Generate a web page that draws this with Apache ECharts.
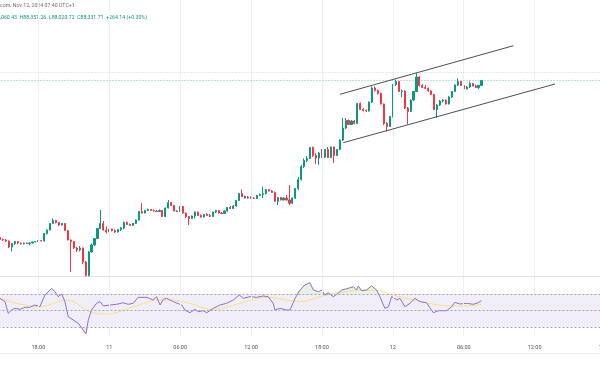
<!DOCTYPE html>
<html><head><meta charset="utf-8">
<script src="https://cdn.jsdelivr.net/npm/echarts@6/dist/echarts.min.js"></script>
<style>html,body{margin:0;padding:0;background:#fff}#c{width:600px;height:370px}</style>
</head><body><div id="c"></div>
<script>
// ---- data ----
const slotCount = 206; // 15-minute slots starting 2024-11-10 14:45 (UTC+1)
const tickTimes = ['2024-11-10 18:00','2024-11-11 00:00','2024-11-11 06:00','2024-11-11 12:00','2024-11-11 18:00','2024-11-12 00:00','2024-11-12 06:00','2024-11-12 12:00','2024-11-12 18:00'];
const tickLabels = ['18:00','11','06:00','12:00','18:00','12','06:00','12:00','18:00'];

const opens = [
79698,79588,79560,79505,79175,79368,79478,79395,79351,79395,
79368,79395,79450,79478,79533,79505,79918,80110,80468,80633,
80523,80385,80468,80083,79560,79478,79120,79010,79120,78350,
77608,78900,79285,79643,80193,80468,80110,80000,80165,80083,
80000,80138,80220,80523,80413,80358,80468,80660,81128,81045,
81183,81238,81183,81155,81128,81183,80853,81320,81623,81458,
81155,81128,81403,81045,80853,80743,80880,81100,80908,80825,
80963,80908,80853,81100,81183,81045,81018,81155,81348,81293,
81430,81733,82118,81953,81870,81925,81854,81843,82008,82063,
82118,82338,82255,82173,81678,81898,81760,81870,81760,81579,
81870,82393,82888,83603,83933,84043,84648,84208,84070,84345,
84125,84538,84098,84675,84208,84538,85060,85720,86133,85913,
86105,85968,87068,86738,86683,86655,87150,87920,87783,87618,
87040,85968,85803,86353,88113,88278,87728,87755,86820,86628,
87260,87728,88525,88058,87948,87893,87755,87563,86738,86985,
87205,87260,87040,87425,87728,88085,88278,88058,87865,87975,
88168,88030,87948,88060.43];
const closes = [
79588,79560,79505,79175,79368,79478,79395,79351,79395,79368,
79395,79450,79478,79533,79505,79918,80110,80468,80633,80523,
80385,80468,80083,79560,79478,79120,79010,79120,78350,77608,
78900,79285,79643,80193,80468,80110,80000,80165,80083,80000,
80138,80220,80523,80413,80358,80468,80660,81128,81045,81183,
81238,81183,81155,81128,81183,80853,81320,81623,81458,81155,
81128,81403,81045,80853,80743,80880,81100,80908,80825,80963,
80908,80853,81100,81183,81045,81018,81155,81348,81293,81430,
81733,82118,81953,81870,81925,81854,81843,82008,82063,82118,
82338,82255,82173,81678,81898,81760,81870,81760,81579,81870,
82393,82888,83603,83933,84043,84648,84208,84070,84345,84125,
84538,84098,84675,84208,84538,85060,85720,86133,85913,86105,
85968,87068,86738,86683,86655,87150,87920,87783,87618,87040,
85968,85803,86353,88113,88278,87728,87755,86820,86628,87260,
87728,88525,88058,87948,87893,87755,87563,86738,86985,87205,
87260,87040,87425,87728,88085,88278,88058,87865,87975,88168,
88030,87948,88067.57,88331.71];
const highs = [
79780,79643,79615,79533,79395,79505,79505,79423,79423,79423,
79423,79478,79505,79560,79560,79945,80138,80495,80743,80660,
80550,80495,80495,80110,79588,79505,79175,79230,79148,78405,
78955,79368,79670,80220,81210,80605,80303,80193,80193,80138,
80165,80275,80578,80578,80468,80495,80688,81155,81579,81210,
81293,81265,81238,81210,81238,81210,81348,81760,81650,81485,
81210,81430,81430,81073,80880,80908,81128,81128,80963,80990,
81045,80990,81128,81210,81210,81100,81183,81375,81430,81485,
81760,82145,82338,82008,81980,81953,81925,82035,82118,82492,
82365,82365,82310,82228,81925,81925,81898,82035,82585,81898,
82420,83025,83685,84043,84180,84675,84703,84345,84400,84565,
84565,84675,84703,84703,84565,85088,86270,86270,86188,86160,
86160,87095,87123,86820,86738,87178,88003,88003,87838,87673,
87068,86050,86380,88140,88388,88305,87838,87783,86875,87288,
87755,88745,88580,88140,88085,87948,87810,87590,87040,87260,
87315,87288,87480,87755,88113,88443,88305,88113,88030,88278,
88195,88113,88085,88357.26];
const lows = [
79533,79505,79450,79120,78928,79285,79313,79313,79313,79340,
79258,79368,79423,79450,79478,79478,79863,80083,80440,80468,
80330,80358,80055,79533,77800,79065,78900,78928,78240,77553,
77553,78873,79230,79615,80165,80083,79918,79918,80028,79945,
79973,80055,80165,80385,80330,80330,80440,80633,81018,81018,
81155,81155,81128,81100,81100,80825,80825,81293,81430,81128,
81100,81100,81018,80770,80385,80715,80743,80880,80798,80798,
80880,80825,80825,81045,81018,80990,80990,81128,81265,81265,
81375,81705,81925,81843,81843,81815,81815,81815,81980,81870,
82063,82228,82145,81650,81485,81733,81733,81733,81485,81540,
81815,82310,82833,83520,83850,84015,84125,83740,83685,84070,
84070,84070,84070,83795,84180,84510,85005,85665,85885,85885,
85913,85940,86710,86628,86600,86628,87095,87728,87563,87013,
85885,85528,85775,86298,88030,87700,87425,86765,85913,86600,
87205,87700,88003,87920,87865,87728,87535,86710,86270,86930,
87123,87013,87013,87370,87700,88030,88030,87838,87838,87920,
88003,87920,87865,88020.72];

// RSI(14): [slot, value]
const rsiPoints = [[0,64.8],[1.7,60.8],[2.8,46.8],[4,50.8],[5,52.8],[6.8,51.6],[8.5,54],[10,54],[11.8,56.8],[13.5,54.7],[15.2,68.8],[17.5,76.8],[18.6,72.8],[19.7,66.8],[20.9,70],[22,60.8],[23.1,42.7],[24.8,38.8],[26.5,34.8],[27.7,28.8],[29.1,22],[29.9,38.8],[31,50.8],[32.7,58.8],[33.9,60.8],[35,55.6],[37.2,56.8],[39.5,57.6],[41.7,59.5],[43.4,57.6],[45.1,58.8],[46.8,66],[49.7,66],[51.9,62.8],[53,66.8],[54.2,56.8],[55.3,63.6],[56.4,64.8],[58.7,60.8],[61.5,56.8],[62.6,50.8],[64.3,47.5],[66,51.6],[67.1,48.7],[68.8,49.9],[70,47.5],[72.2,52.8],[74.5,56.8],[76.7,58.8],[79,62.8],[81,68.8],[82.4,64.8],[84.6,66.8],[86.9,66],[89.1,67.6],[90.8,66.8],[92.5,58.8],[93.1,50.8],[94.8,52.8],[97,50.8],[98.2,50.8],[99.9,64.8],[101.6,74.8],[103.2,80.8],[104.9,83.6],[106.1,74.8],[107.8,72.8],[108.9,74.8],[110,68.8],[111.1,71.6],[112.8,66.8],[114.5,70.8],[115.7,74.8],[117.9,76.8],[119.6,78.8],[120.7,74.8],[121.3,79.6],[122.4,74],[124.1,74.8],[125.8,80],[127.5,74.8],[128.6,66.8],[130.3,52.8],[131.5,54.7],[132.6,66.8],[134.3,62.8],[135.4,64.8],[137.1,54.7],[138.8,58.8],[140.5,64.8],[142.2,60.8],[144.4,59.5],[146.7,47.5],[148.4,49.9],[151.2,49.9],[152.9,54.7],[154,60],[155.7,58],[158,58.8],[160.2,57.6],[161.9,59.5],[163,62]];
// RSI-based moving average: [slot, value]
const rsiMaPoints = [[0,64.8],[5.6,58.8],[13.5,54.7],[22.6,62.8],[30.5,48.7],[36.1,46],[45.1,54.7],[54.2,62.8],[62,60.8],[72.2,51.6],[81.2,58.8],[90.3,66],[97,62.8],[101.6,60.8],[108.3,66.8],[116.2,72.8],[126.4,74.8],[133.1,68.8],[144.4,59.5],[152.3,55.6],[158,55.6],[163,57.6]];

const upperChannel = [[115.1,87573],[173.8,90246]];
const lowerChannel = [[116.2,84911],[187.9,88140]];
const lastClose = 88331.71;
const prevDayClose = 88760;
const rsiLevels = [70,50,30];
const headerText = 'com, Nov 12, 2024 07:40 UTC+1';
const ohlcText = 'O88,060.43  H88,357.26  L88,020.72  C88,331.71  +264.14 (+0.30%)';

// ---- build ----
function fmt(d){const p=n=>String(n).padStart(2,'0');return d.getUTCFullYear()+'-'+p(d.getUTCMonth()+1)+'-'+p(d.getUTCDate())+' '+p(d.getUTCHours())+':'+p(d.getUTCMinutes());}
const t0 = Date.UTC(2024,10,10,14,45);
const times = [];
for(let i=0;i<slotCount;i++) times.push(fmt(new Date(t0+i*900000)));
const tickSlots = tickTimes.map(t=>times.indexOf(t));
const candles = opens.map((o,i)=>[o,closes[i],lows[i],highs[i]]);
const UP='#089981', DOWN='#f23645', GRIDC='#eef0f4';
const F='Roboto';

// fit text sizes to the reference widths
const mctx = document.createElement('canvas').getContext('2d');
function w10(s){mctx.font='10px Roboto';return mctx.measureText(s).width;}
const headerSize = 10*75/w10(headerText);
const prefixW = w10('O88')/10;
const ohlcSize = 10*157/w10(ohlcText);

const chart = echarts.init(document.getElementById('c'),null,{renderer:'canvas'});
chart.setOption({
  animation:false,
  backgroundColor:'#ffffff',
  grid:[{left:-1.5,width:608.5,top:0,height:276,containLabel:false,outerBoundsMode:'none'},
        {left:-1.5,width:608.5,top:277,height:60,containLabel:false,outerBoundsMode:'none'}],
  xAxis:[
    {type:'category',gridIndex:0,data:times,boundaryGap:true,axisLine:{show:true,lineStyle:{color:'#e0e3eb'}},axisTick:{show:false},axisLabel:{show:false},splitLine:{show:false}},
    {type:'category',gridIndex:1,data:times,boundaryGap:true,axisLine:{show:false},axisTick:{show:false},
      axisLabel:{show:true,hideOverlap:false,interval:(i,v)=>tickTimes.indexOf(v)>=0,formatter:v=>tickLabels[tickTimes.indexOf(v)],color:'#50535e',fontSize:5.5,fontFamily:F,margin:8},splitLine:{show:false}},
    {type:'value',gridIndex:0,min:-0.5,max:slotCount-0.5,show:false},
    {type:'value',gridIndex:1,min:-0.5,max:slotCount-0.5,show:false}
  ],
  yAxis:[
    {type:'value',gridIndex:0,min:77580,max:92760,show:false},
    {type:'value',gridIndex:1,min:18.35,max:90.42,show:false}
  ],
  series:[
    {type:'line',xAxisIndex:2,yAxisIndex:0,data:[],z:1,silent:true,
      markLine:{silent:true,symbol:'none',label:{show:false},animation:false,lineStyle:{color:GRIDC,type:'solid',width:1},
        data:tickSlots.map(s=>({xAxis:s}))}},
    {type:'candlestick',xAxisIndex:0,yAxisIndex:0,data:candles,barWidth:1.6,z:3,
      itemStyle:{color:UP,color0:DOWN,borderColor:UP,borderColor0:DOWN,borderWidth:1},
      markLine:{silent:true,symbol:'none',label:{show:false},animation:false,
        data:[{yAxis:prevDayClose,lineStyle:{color:'#d1d4dc',type:[1,2],width:1}},{yAxis:lastClose,lineStyle:{color:'rgba(8,153,129,0.55)',type:[1,2],width:1}}]}},
    {type:'line',xAxisIndex:2,yAxisIndex:0,data:upperChannel,symbol:'none',z:5,lineStyle:{color:'#4d4f57',width:1}},
    {type:'line',xAxisIndex:2,yAxisIndex:0,data:lowerChannel,symbol:'none',z:5,lineStyle:{color:'#4d4f57',width:1}},
    {type:'line',xAxisIndex:3,yAxisIndex:1,data:[],z:1,silent:true,
      markArea:{silent:true,itemStyle:{color:'rgba(126,87,194,0.1)'},data:[[{yAxis:rsiLevels[0]},{yAxis:rsiLevels[2]}]]},
      markLine:{silent:true,symbol:'none',label:{show:false},animation:false,
        data:tickSlots.map(s=>({xAxis:s,lineStyle:{color:GRIDC,type:'solid',width:1}})).concat(
             rsiLevels.map(v=>({yAxis:v,lineStyle:{color:'#a3a6af',type:[2,2],width:1}})))}},
    {type:'line',xAxisIndex:3,yAxisIndex:1,data:rsiPoints.map(p=>[p[0],Math.max(p[1],70)]),symbol:'none',z:2,
      lineStyle:{width:0},areaStyle:{origin:70,color:'rgba(76,175,80,0.22)'}},
    {type:'line',xAxisIndex:3,yAxisIndex:1,data:rsiPoints.map(p=>[p[0],Math.min(p[1],30)]),symbol:'none',z:2,
      lineStyle:{width:0},areaStyle:{origin:30,color:'rgba(242,54,69,0.22)'}},
    {type:'line',xAxisIndex:3,yAxisIndex:1,data:rsiMaPoints,symbol:'none',smooth:0.4,z:3,lineStyle:{color:'#f7e27a',width:1}},
    {type:'line',xAxisIndex:3,yAxisIndex:1,data:rsiPoints,symbol:'none',z:4,lineStyle:{color:'#8d6fd1',width:1}}
  ],
  graphic:[
    {type:'text',x:0,y:6,style:{text:headerText,fill:'#6a6d78',fontSize:headerSize,fontFamily:F,verticalAlign:'middle'}},
    {type:'text',x:-prefixW*ohlcSize,y:17.5,style:{text:ohlcText,fill:UP,fontSize:ohlcSize,fontFamily:F,verticalAlign:'middle'}},
    {type:'line',silent:true,shape:{x1:0,y1:353.5,x2:600,y2:353.5},style:{stroke:'#e9ebf0',lineWidth:1}}
  ]
});
</script></body></html>
